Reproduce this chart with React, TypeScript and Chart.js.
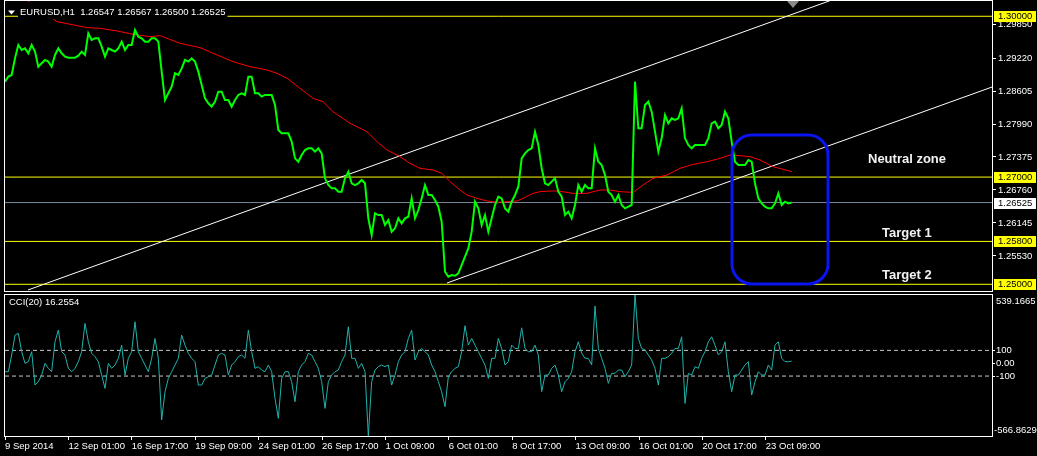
import React, { useEffect, useRef } from "react";
import { Chart, registerables } from "chart.js";

Chart.register(...registerables);

// ---------------- data ----------------
const symbolHeader = "EURUSD,H1  1.26547 1.26567 1.26500 1.26525";
const cciTitle = "CCI(20) 16.2554";

const timeLabels = [
  "9 Sep 2014", "12 Sep 01:00", "16 Sep 17:00", "19 Sep 09:00", "24 Sep 01:00",
  "26 Sep 17:00", "1 Oct 09:00", "6 Oct 01:00", "8 Oct 17:00", "13 Oct 09:00",
  "16 Oct 01:00", "20 Oct 17:00", "23 Oct 09:00",
];
const TICK_BARS = 63.4; // bars between two time labels
const STEP_BARS = 10 / 3; // bars between two sampled closes
const X_MAX = 987;

const priceTicks = [1.2985, 1.2922, 1.28605, 1.2799, 1.27375, 1.2676, 1.26145, 1.2553];
const levelPrices = [1.3, 1.27, 1.258, 1.25];
const currentPrice = 1.26525;
const priceMin = 1.24875;
const priceMax = 1.30285;

const closes = [
  1.28780, 1.28874, 1.28905, 1.29216, 1.29465, 1.29371, 1.29402, 1.29309, 1.29465, 1.29340,
  1.29060, 1.29123, 1.29185, 1.29154, 1.29060, 1.29278, 1.29402, 1.29309, 1.29247, 1.29228,
  1.29228, 1.29228, 1.29266, 1.29340, 1.29278, 1.29682, 1.29558, 1.29589, 1.29589, 1.29434,
  1.29247, 1.29402, 1.29371, 1.29340, 1.29402, 1.29527, 1.29371, 1.29465, 1.29465, 1.29745,
  1.29620, 1.29589, 1.29527, 1.29527, 1.29589, 1.29589, 1.29527, 1.28967, 1.28438, 1.28563,
  1.28687, 1.28936, 1.28905, 1.29029, 1.29185, 1.29154, 1.29216, 1.29154, 1.28967,
  1.28718,
  1.28469, 1.28376, 1.28314, 1.28407, 1.28594, 1.28594, 1.28438, 1.28438, 1.28314, 1.28438,
  1.28532, 1.28563, 1.28532, 1.28874, 1.28874, 1.28563, 1.28563, 1.28501, 1.28532, 1.28532,
  1.28532, 1.28345, 1.27879, 1.27816, 1.27816, 1.27816, 1.27661, 1.27350, 1.27287, 1.27412,
  1.27505, 1.27536, 1.27536, 1.27474, 1.27536, 1.27443, 1.26977, 1.26852, 1.26790, 1.26790,
  1.26728, 1.26728, 1.26977, 1.27101, 1.26884, 1.26852, 1.26884, 1.26946, 1.26884, 1.26230,
  1.25919, 1.26324, 1.26292, 1.26292, 1.26106, 1.26199, 1.25981, 1.26044, 1.26230,
  1.26137,
  1.26230, 1.26261, 1.26603, 1.26230, 1.26386, 1.26603, 1.26852, 1.26666, 1.26666, 1.26572,
  1.26448, 1.26168, 1.25235, 1.25142, 1.25173, 1.25160, 1.25204, 1.25359, 1.25515, 1.25670,
  1.25981, 1.26541, 1.26417, 1.26106, 1.26292, 1.25981, 1.26230, 1.26479, 1.26635, 1.26603,
  1.26417, 1.26355, 1.26541, 1.26666, 1.26821, 1.27350, 1.27443, 1.27505, 1.27536, 1.27847,
  1.27599, 1.27163, 1.26884, 1.26852, 1.26915, 1.26977, 1.26728, 1.26635, 1.26292, 1.26355,
  1.26230, 1.26479, 1.26852, 1.26728, 1.26852, 1.26790, 1.26790, 1.27536, 1.27287,
  1.27225,
  1.27039, 1.26728, 1.26666, 1.26541, 1.26666, 1.26479, 1.26417, 1.26448, 1.26479, 1.28780,
  1.27910, 1.27910, 1.28345, 1.28407, 1.28221, 1.27847, 1.27474, 1.27723, 1.28158, 1.28003,
  1.28096, 1.28065, 1.28096, 1.28283, 1.27723, 1.27599, 1.27536, 1.27599, 1.27599, 1.27599,
  1.27599, 1.27723, 1.28003, 1.28034, 1.27910, 1.27972, 1.28221, 1.28096, 1.27661, 1.27287,
  1.27225, 1.27225, 1.27225, 1.27319, 1.27287, 1.26884, 1.26603, 1.26510, 1.26448, 1.26417,
  1.26417, 1.26510, 1.26697, 1.26479, 1.26541, 1.26510, 1.26525,
];

const cciValues = [
  -66, -66, 64, 219, 232, 90, -1, 12, 90, -170,
  -144, -92, -1, -40, -66, 167, 258, 90, 64, -40,
  -66, -40, 12, 90, 310, 167, 77, 51, 12, -92,
  -196, -1, -40, -14, 38, 141, -92, 38, 90, 323,
  90, 38, -14, -66, 38, 193, 38, -442, -222, -118,
  -66, -14, 38, 219, 141, 77, 38, 12, -170,
  -170,
  -118, -105, -92, -14, 64, 77, 64, -92, -14, 12,
  51, 64, 38, 258, 90, -40, -27, -53, -66, -14,
  -66, -274, -429, -118, -66, -66, -144, -300, -66, -14,
  12, 77, 64, 12, -40, -144, -352, -144, -92, -66,
  -53, 12, 64, 284, 38, 38, -40, -1, -66, -566.8629,
  -144, -53, -27, -14, -27, -14, -170, -92, 12,
  64,
  90, 193, 258, 25, 90, 115, 90, 64, -14, -66,
  -144, -222, -339, -105, -66, -40, -27, 90, 292, 141,
  193, 141, 90, 38, -14, -118, 38, 38, 193, 115,
  -14, 12, 141, 115, 115, 276, 115, 90, 90, 141,
  64, -222, -92, -92, -40, -14, -92, -222, -144, -118,
  -66, 90, 167, 77, 38, 38, -14, 445, 115,
  38,
  -40, -157, -79, -79, -53, -53, -105, -66, -14, 539.1665,
  193, 115, 103, 64, 25, -40, -170, 38, 38, 51,
  77, 115, 115, 206, -313, -79, -92, -27, -40, 38,
  90, 167, 206, 141, 64, 90, 167, -66, -222, -92,
  -92, -53, -14, 12, -248, -144, -66, -92, -92, -14,
  -53, 141, 167, 38, 12, 12, 16.2554,
];
const cciLevels = [100, -100];
const cciTicks = [100, 0, -100];
const cciMin = -566.8629;
const cciMax = 539.1665;

const maBars = [
  15, 28, 52, 82, 95, 112, 128, 145, 155, 162,
  175, 195, 212, 228, 245, 262, 272, 282, 295, 308,
  318, 328, 345, 362, 372, 382, 395, 405, 415, 428,
  437, 445, 455, 462, 472, 482, 492, 502, 512, 518,
  528, 535, 545, 552, 562, 568, 582, 595, 605, 615,
  628, 638, 648, 662, 675, 688, 702, 715, 725, 735,
  745, 755, 768, 787,
];
const maValues = [
  1.30420, 1.30211, 1.29900, 1.29788, 1.29776, 1.29726, 1.29664, 1.29620, 1.29639, 1.29589,
  1.29496, 1.29415, 1.29278, 1.29154, 1.29060, 1.28998, 1.28936, 1.28843, 1.28656, 1.28469,
  1.28407, 1.28221, 1.28003, 1.27847, 1.27661, 1.27505, 1.27381, 1.27256, 1.27163, 1.27132,
  1.27070, 1.26915, 1.26759, 1.26666, 1.26603, 1.26554, 1.26529, 1.26541, 1.26554, 1.26603,
  1.26697, 1.26728, 1.26740, 1.26740, 1.26715, 1.26697, 1.26697, 1.26759, 1.26759, 1.26728,
  1.26715, 1.26852, 1.26977, 1.27039, 1.27163, 1.27238, 1.27287, 1.27350, 1.27412, 1.27400,
  1.27381, 1.27319, 1.27194, 1.27101,
];

const upperChannelBars = [23, 900];
const upperChannelPrices = [1.24894, 1.30796];
const lowerChannelBars = [442, 987];
const lowerChannelPrices = [1.25024, 1.2868];

const zoneBars = [727, 823];
const zonePrices = [1.25006, 1.27785];

const noteTexts = ["Neutral zone", "Target 1", "Target 2"];
const noteBars = [863, 877, 877];
const notePrices = [1.27338, 1.25957, 1.25164];

// ---------------- styles ----------------
const W = 1037;
const H = 456;
const MAIN_H = 292;
const SUB_H = 164;
const FAMILY = '"Liberation Sans", Arial, sans-serif';
const AXIS_FONT = { family: FAMILY, size: 9.5 };
const TXT = "9.5px " + FAMILY;

function hLine(v: number) {
  return [{ x: 0, y: v }, { x: X_MAX, y: v }];
}

function roundRectPath(ctx: CanvasRenderingContext2D, x: number, y: number, w: number, h: number, r: number) {
  ctx.beginPath();
  ctx.moveTo(x + r, y);
  ctx.lineTo(x + w - r, y);
  ctx.arcTo(x + w, y, x + w, y + r, r);
  ctx.lineTo(x + w, y + h - r);
  ctx.arcTo(x + w, y + h, x + w - r, y + h, r);
  ctx.lineTo(x + r, y + h);
  ctx.arcTo(x, y + h, x, y + h - r, r);
  ctx.lineTo(x, y + r);
  ctx.arcTo(x, y, x + r, y, r);
  ctx.closePath();
}

const mainDecor = {
  id: "mainDecor",
  afterDraw(chart: any) {
    const { ctx, chartArea: a, scales } = chart;
    const xs = scales.x;
    const ys = scales.y;
    ctx.save();

    // blue rounded zone
    const bx1 = xs.getPixelForValue(zoneBars[0]);
    const bx2 = xs.getPixelForValue(zoneBars[1]);
    const by1 = ys.getPixelForValue(zonePrices[1]);
    const by2 = ys.getPixelForValue(zonePrices[0]);
    ctx.strokeStyle = "#0a14f0";
    ctx.lineWidth = 3;
    roundRectPath(ctx, bx1, by1, bx2 - bx1, by2 - by1, 20);
    ctx.stroke();

    // notes
    ctx.font = "bold 13px " + FAMILY;
    ctx.fillStyle = "#f2f2f2";
    ctx.textBaseline = "middle";
    ctx.textAlign = "left";
    noteTexts.forEach((t, i) => {
      ctx.fillText(t, xs.getPixelForValue(noteBars[i]), ys.getPixelForValue(notePrices[i]));
    });

    // header
    ctx.font = TXT;
    const tw = ctx.measureText(symbolHeader).width;
    ctx.fillStyle = "#000";
    ctx.fillRect(18, a.top + 1, tw + 4, 17);
    ctx.fillStyle = "#fff";
    ctx.beginPath();
    ctx.moveTo(8, 10.5);
    ctx.lineTo(15, 10.5);
    ctx.lineTo(11.5, 14.5);
    ctx.closePath();
    ctx.fill();
    ctx.fillText(symbolHeader, 20, 12.5);

    // shift marker
    ctx.fillStyle = "#8a8a8a";
    ctx.beginPath();
    ctx.moveTo(787, a.top);
    ctx.lineTo(799, a.top);
    ctx.lineTo(793, a.top + 7);
    ctx.closePath();
    ctx.fill();

    // price boxes
    const boxes = levelPrices.map((p) => ({ p, bg: "#ffff00" }));
    boxes.push({ p: currentPrice, bg: "#ffffff" });
    boxes.forEach(({ p, bg }) => {
      const yc = ys.getPixelForValue(p);
      ctx.fillStyle = bg;
      ctx.fillRect(a.right + 2, Math.round(yc) - 5, 42, 11);
      ctx.fillStyle = "#000";
      ctx.fillText(p.toFixed(5), a.right + 6, Math.round(yc) + 0.5);
    });

    // frame
    ctx.strokeStyle = "#ffffff";
    ctx.lineWidth = 1;
    ctx.strokeRect(a.left - 0.5, a.top - 0.5, a.right - a.left + 1, a.bottom - a.top + 1);
    ctx.restore();
  },
};

const subDecor = {
  id: "subDecor",
  afterDraw(chart: any) {
    const { ctx, chartArea: a } = chart;
    ctx.save();
    ctx.font = TXT;
    ctx.textBaseline = "middle";
    ctx.textAlign = "left";
    ctx.fillStyle = "#ffffff";
    ctx.fillText(cciTitle, 9, a.top + 8);
    ctx.fillText(cciMax.toFixed(4), a.right + 4, a.top + 7);
    ctx.fillText(cciMin.toFixed(4), a.right + 2, a.bottom - 6);
    ctx.strokeStyle = "#ffffff";
    ctx.lineWidth = 1;
    ctx.strokeRect(a.left - 0.5, a.top + 0.5, a.right - a.left + 1, a.bottom - a.top);
    ctx.restore();
  },
};

export default function App() {
  const mainRef = useRef<HTMLCanvasElement>(null);
  const subRef = useRef<HTMLCanvasElement>(null);

  useEffect(() => {
    document.body.style.margin = "0";
    document.body.style.background = "#000";

    const lineBase = { pointRadius: 0, tension: 0, fill: false };

    const main = new Chart(mainRef.current as HTMLCanvasElement, {
      type: "line",
      data: {
        datasets: [
          {
            ...lineBase,
            data: closes.map((v, i) => ({ x: i * STEP_BARS, y: v })),
            borderColor: "#00ff00",
            borderWidth: 2,
            order: 1,
          },
          {
            ...lineBase,
            data: maBars.map((b, i) => ({ x: b, y: maValues[i] })),
            borderColor: "#ff0000",
            borderWidth: 1,
            order: 2,
          },
          {
            ...lineBase,
            data: upperChannelBars.map((b, i) => ({ x: b, y: upperChannelPrices[i] })),
            borderColor: "#ffffff",
            borderWidth: 1,
            order: 3,
          },
          {
            ...lineBase,
            data: lowerChannelBars.map((b, i) => ({ x: b, y: lowerChannelPrices[i] })),
            borderColor: "#ffffff",
            borderWidth: 1,
            order: 3,
          },
          ...levelPrices.map((p) => ({
            ...lineBase,
            data: hLine(p),
            borderColor: "#ffff00",
            borderWidth: 1,
            order: 4,
          })),
          {
            ...lineBase,
            data: hLine(currentPrice),
            borderColor: "#778899",
            borderWidth: 1,
            order: 4,
          },
        ],
      } as any,
      options: {
        responsive: false,
        animation: false,
        devicePixelRatio: 1,
        events: [],
        layout: { padding: { top: 1, left: 5, right: 0, bottom: 1 } },
        plugins: { legend: { display: false }, tooltip: { enabled: false } },
        scales: {
          x: { type: "linear", display: false, min: 0, max: X_MAX },
          y: {
            type: "linear",
            position: "right",
            min: priceMin,
            max: priceMax,
            afterBuildTicks: (s: any) => {
              s.ticks = priceTicks.map((v) => ({ value: v }));
            },
            afterFit: (s: any) => {
              s.width = 45;
              s.paddingTop = 0;
              s.paddingBottom = 0;
            },
            grid: { drawOnChartArea: false, drawTicks: true, tickLength: 4, color: "#ffffff" },
            border: { display: false },
            ticks: {
              color: "#ffffff",
              font: AXIS_FONT,
              padding: 2,
              autoSkip: false,
              callback: (v: any) => Number(v).toFixed(5),
            },
          },
        },
      } as any,
      plugins: [mainDecor],
    });

    const sub = new Chart(subRef.current as HTMLCanvasElement, {
      type: "line",
      data: {
        datasets: [
          {
            ...lineBase,
            data: cciValues.map((v, i) => ({ x: i * STEP_BARS, y: v })),
            borderColor: "#20b2aa",
            borderWidth: 1,
            order: 1,
          },
          ...cciLevels.map((lv) => ({
            ...lineBase,
            data: hLine(lv),
            borderColor: "#c8c8c8",
            borderWidth: 1,
            borderDash: [4, 3],
            order: 2,
          })),
        ],
      } as any,
      options: {
        responsive: false,
        animation: false,
        devicePixelRatio: 1,
        events: [],
        layout: { padding: { top: 2, left: 5, right: 0, bottom: 0 } },
        plugins: { legend: { display: false }, tooltip: { enabled: false } },
        scales: {
          x: {
            type: "linear",
            position: "bottom",
            min: 0,
            max: X_MAX,
            afterBuildTicks: (s: any) => {
              s.ticks = timeLabels.map((_, k) => ({ value: k * TICK_BARS }));
            },
            afterFit: (s: any) => {
              s.height = 20;
              s.paddingLeft = 0;
              s.paddingRight = 0;
            },
            grid: { drawOnChartArea: false, drawTicks: true, tickLength: 4, color: "#ffffff" },
            border: { display: false },
            ticks: {
              color: "#ffffff",
              font: AXIS_FONT,
              padding: 1,
              align: "start",
              autoSkip: false,
              maxRotation: 0,
              minRotation: 0,
              callback: (_v: any, i: number) => timeLabels[i],
            },
          },
          y: {
            type: "linear",
            position: "right",
            min: cciMin,
            max: cciMax,
            afterBuildTicks: (s: any) => {
              s.ticks = cciTicks.map((v) => ({ value: v }));
            },
            afterFit: (s: any) => {
              s.width = 45;
              s.paddingTop = 0;
              s.paddingBottom = 0;
            },
            grid: { drawOnChartArea: false, drawTicks: true, tickLength: 3, color: "#ffffff" },
            border: { display: false },
            ticks: {
              color: "#ffffff",
              font: AXIS_FONT,
              padding: 1,
              autoSkip: false,
              callback: (v: any) => (Number(v) === 0 ? "0.00" : String(v)),
            },
          },
        },
      } as any,
      plugins: [subDecor],
    });

    return () => {
      main.destroy();
      sub.destroy();
    };
  }, []);

  return (
    <div style={{ position: "relative", width: W, height: H, background: "#000", overflow: "hidden" }}>
      <canvas
        ref={mainRef}
        width={W}
        height={MAIN_H}
        style={{ position: "absolute", left: 0, top: 0, width: W, height: MAIN_H }}
      />
      <canvas
        ref={subRef}
        width={W}
        height={SUB_H}
        style={{ position: "absolute", left: 0, top: MAIN_H, width: W, height: SUB_H }}
      />
    </div>
  );
}
